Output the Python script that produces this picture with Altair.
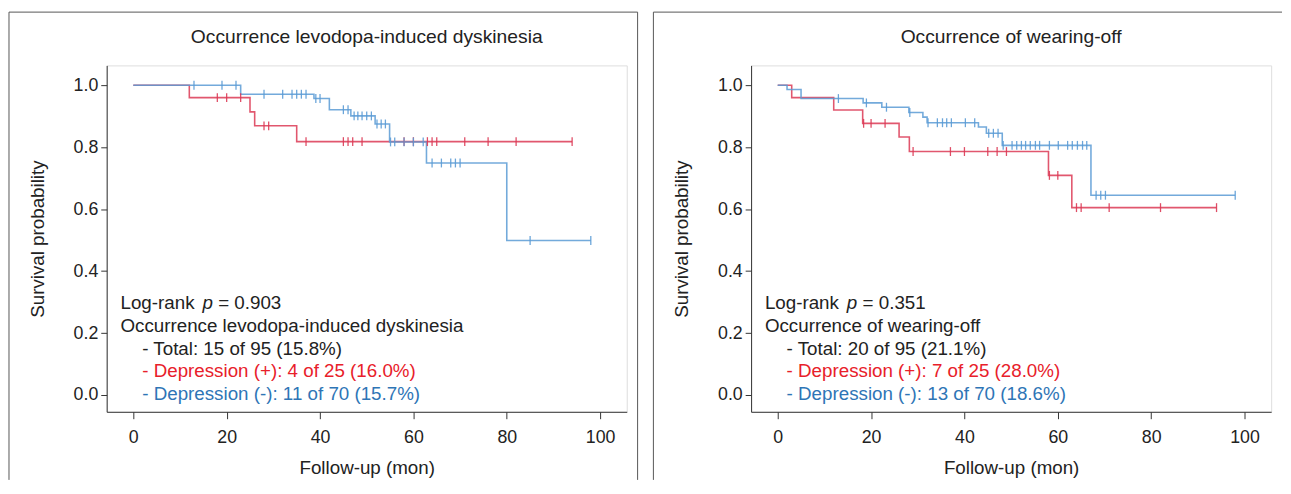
import altair as alt
import pandas as pd

# ---------------- data ----------------
GROUPS = ["Depression (+)", "Depression (-)"]

# Left panel: Occurrence levodopa-induced dyskinesia
L_red_t = [0, 12, 25, 26, 35, 94]
L_red_s = [1.0, 0.96, 0.914, 0.869, 0.818, 0.818]
L_red_c = [18, 20, 23, 28, 29, 37, 45, 46, 47, 49, 58, 60, 63, 64, 65, 71, 76, 82, 94]
L_blue_t = [0, 23, 38.7, 42, 46.6, 51.8, 54.9, 62.8, 80, 98]
L_blue_s = [1.0, 0.971, 0.957, 0.921, 0.901, 0.875, 0.817, 0.749, 0.499, 0.499]
L_blue_c = [13, 19, 22, 28, 32, 34, 35, 36, 37, 39.1, 40, 45, 46, 47.3, 48.1, 49, 50, 51,
            52.2, 53.1, 54, 55.1, 56, 58, 60, 62.1, 64, 66, 68, 69, 70, 85, 98]

# Right panel: Occurrence of wearing-off
R_red_t = [0, 3, 12, 18.2, 26, 28.2, 58, 63, 94]
R_red_s = [1.0, 0.96, 0.92, 0.877, 0.833, 0.786, 0.709, 0.605, 0.605]
R_red_c = [18.4, 20, 23, 29, 37, 40, 45, 47, 49, 58.2, 60, 64, 65, 71, 82, 94]
R_blue_t = [0, 2, 5, 18.3, 22.3, 28.1, 31.1, 32, 43, 44.7, 48.1, 67.1, 98]
R_blue_s = [1.0, 0.986, 0.957, 0.943, 0.929, 0.912, 0.897, 0.879, 0.865, 0.845, 0.806, 0.645, 0.645]
R_blue_c = [13, 19, 23.3, 28.3, 32.2, 34.2, 35.3, 36.2, 37.2, 40.2, 42.2, 45.2, 46.2, 47.2,
            48.3, 50.2, 51.2, 52.2, 53.1, 54.1, 55.2, 56.1, 58.2, 60.1, 62.1, 63.1, 64.2,
            65.3, 66.2, 68.2, 69.2, 70.2, 98]

X_TICKS = [0, 20, 40, 60, 80, 100]
Y_TICKS = [0.0, 0.2, 0.4, 0.6, 0.8, 1.0]

TITLES = ["Occurrence levodopa-induced dyskinesia", "Occurrence of wearing-off"]
PVALS = ["= 0.903", "= 0.351"]
TOTALS = ["- Total: 15 of 95 (15.8%)", "- Total: 20 of 95 (21.1%)"]
POS_TXT = ["- Depression (+): 4 of 25 (16.0%)", "- Depression (+): 7 of 25 (28.0%)"]
NEG_TXT = ["- Depression (-): 11 of 70 (15.7%)", "- Depression (-): 13 of 70 (18.6%)"]

# ---------------- styling ----------------
FONT = "Liberation Sans"
LINE_COLORS = ["#dc3a55", "#5b9bd5"]
TEXT_RED = "#e8202a"
TEXT_BLUE = "#2e75b6"
W, H = 527, 351


def level(ts, ss, c):
    idx = max(i for i, t in enumerate(ts) if t <= c)
    return ss[idx]


def curves(red_t, red_s, blue_t, blue_s):
    rows = []
    for g, ts, ss in [(GROUPS[0], red_t, red_s), (GROUPS[1], blue_t, blue_s)]:
        for t, s in zip(ts, ss):
            rows.append({"group": g, "t": t, "s": s})
    return pd.DataFrame(rows)


def censors(red_t, red_s, red_c, blue_t, blue_s, blue_c):
    rows = []
    for g, ts, ss, cs in [(GROUPS[0], red_t, red_s, red_c), (GROUPS[1], blue_t, blue_s, blue_c)]:
        for c in cs:
            rows.append({"group": g, "t": c, "s": level(ts, ss, c)})
    return pd.DataFrame(rows)


one = pd.DataFrame({"a": [0]})


def panel(i, cdf, kdf, right_edge=True):
    xs = alt.Scale(domain=[-5.7, 105.7], nice=False, zero=False)
    ys = alt.Scale(domain=[-0.054, 1.064], nice=False, zero=False)
    cs = alt.Scale(domain=GROUPS, range=LINE_COLORS)
    xaxis = alt.Axis(values=X_TICKS, title="Follow-up (mon)", grid=False,
                     labelFontSize=18, titleFontSize=19, titleFontWeight="normal",
                     labelFont=FONT, titleFont=FONT, tickSize=7, labelPadding=10,
                     domainColor="#333", tickColor="#333", labelColor="#222", titleColor="#222",
                     titleX=W / 2, titleY=57, titleBaseline="middle", titleAlign="center")
    yaxis = alt.Axis(values=Y_TICKS, format=".1f", title="Survival probability", grid=False,
                     labelFontSize=18, titleFontSize=19, titleFontWeight="normal",
                     labelFont=FONT, titleFont=FONT, tickSize=6, labelPadding=3,
                     domainColor="#333", tickColor="#333", labelColor="#222", titleColor="#222",
                     titleX=-70, titleY=H / 2, titleAngle=-90, titleBaseline="middle",
                     titleAlign="center")
    lines = alt.Chart(cdf).mark_line(interpolate="step-after", strokeWidth=1.6, opacity=0.85).encode(
        x=alt.X("t:Q", scale=xs, axis=xaxis),
        y=alt.Y("s:Q", scale=ys, axis=yaxis),
        color=alt.Color("group:N", scale=cs, legend=None),
    )
    ticks = alt.Chart(kdf).mark_tick(orient="vertical", size=9, thickness=1.3, opacity=0.9).encode(
        x=alt.X("t:Q", scale=xs),
        y=alt.Y("s:Q", scale=ys),
        color=alt.Color("group:N", scale=cs, legend=None),
    )

    def txt(s, x, y, color="#222", style="normal", align="left", baseline="alphabetic", size=19):
        return alt.Chart(one).mark_text(align=align, baseline=baseline, fontSize=size,
                                        font=FONT, fontStyle=style, color=color).encode(
            x=alt.value(x), y=alt.value(y), text=alt.value(s))

    texts = [
        txt(TITLES[i], W / 2, -29, align="center", baseline="middle", size=19.5),
        txt("Log-rank", 14, 247),
        txt("p", 97, 247, style="italic"),
        txt(PVALS[i], 113, 247),
        txt(TITLES[i], 14, 270),
        txt(TOTALS[i], 36, 293),
        txt(POS_TXT[i], 36, 316, TEXT_RED),
        txt(NEG_TXT[i], 36, 339, TEXT_BLUE),
    ]

    def rule(**kw):
        return alt.Chart(one).mark_rule(color="#555", strokeWidth=1).encode(
            **{k: alt.value(v) for k, v in kw.items()})

    frame = [
        rule(x=-99, y=-54, y2=420),
        rule(x=-99, x2=538, y=-54),
    ]
    if right_edge:
        frame.append(rule(x=538, y=-54, y2=420))

    return alt.layer(lines, ticks, *texts, *frame).properties(width=W, height=H)


left = panel(0, curves(L_red_t, L_red_s, L_blue_t, L_blue_s),
             censors(L_red_t, L_red_s, L_red_c, L_blue_t, L_blue_s, L_blue_c))
right = panel(1, curves(R_red_t, R_red_s, R_blue_t, R_blue_s),
              censors(R_red_t, R_red_s, R_red_c, R_blue_t, R_blue_s, R_blue_c), right_edge=False)

chart = alt.hconcat(left, right, spacing=14).properties(
    padding={"left": 0, "top": 0, "right": 0, "bottom": 0}
).configure_view(stroke=None).configure(font=FONT)

chart.save("out.html", embed_options={"renderer": "svg", "actions": False})
